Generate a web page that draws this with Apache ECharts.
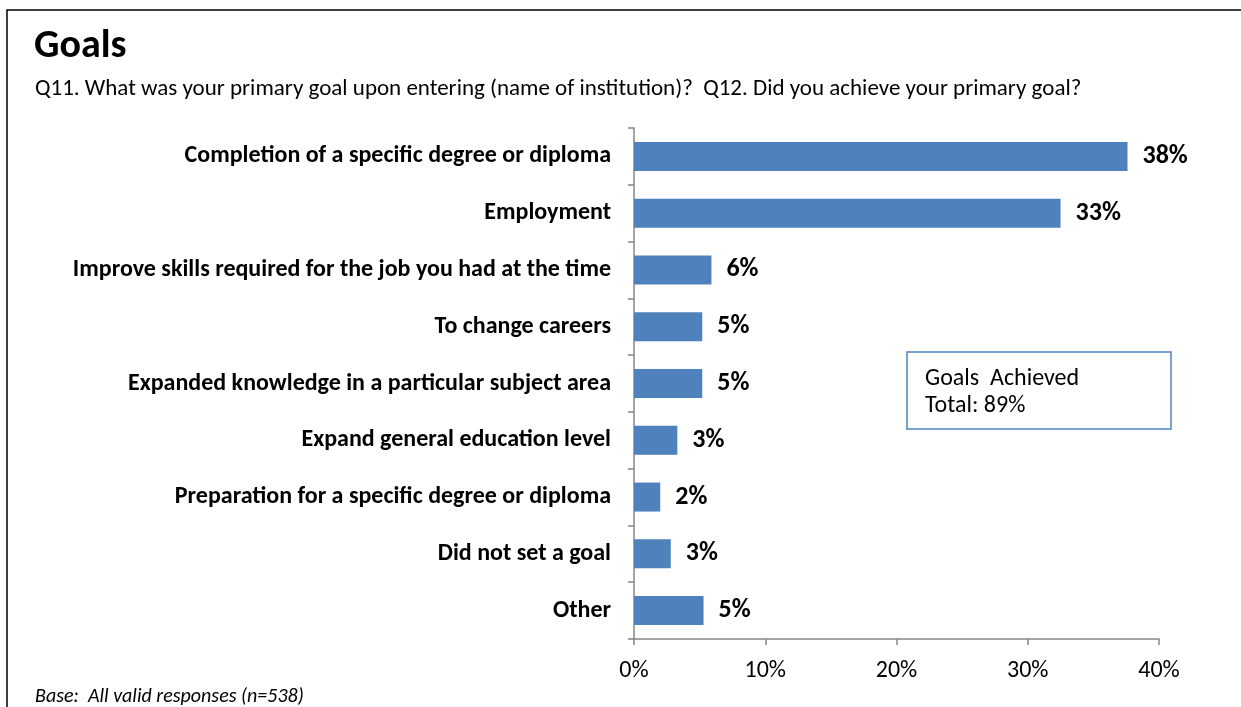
<!DOCTYPE html>
<html>
<head>
<meta charset="utf-8">
<script src="https://cdn.jsdelivr.net/npm/echarts@6/dist/echarts.min.js"></script>
<style>
    html, body {margin: 0; padding: 0; background: #fff;}
    #chart {width: 1241px; height: 707px;}
</style>
</head>
<body>
<div id="chart"></div>
<script>
var goalNames = [
    "Completion of a specific degree or diploma",
    "Employment",
    "Improve skills required for the job you had at the time",
    "To change careers",
    "Expanded knowledge in a particular subject area",
    "Expand general education level",
    "Preparation for a specific degree or diploma",
    "Did not set a goal",
    "Other"
];
var goalPct = [37.6, 32.5, 5.9, 5.2, 5.2, 3.3, 2.0, 2.8, 5.3];
var xTicks = [0, 10, 20, 30, 40];

var fontName = "Carlito, Lato, 'Noto Sans', sans-serif";

var myChart = echarts.init(document.getElementById("chart"));

var option = {
    backgroundColor: '#fff',
    animation: false,
    grid: {
        left: 634,
        right: 82,
        top: 128,
        bottom: 68,
        containLabel: false
    },
    xAxis: {
        type: 'value',
        min: xTicks[0],
        max: xTicks[xTicks.length - 1],
        interval: 10,
        axisLine: {show: true, lineStyle: {color: '#868686', width: 1.5}},
        axisTick: {show: true, length: 6, lineStyle: {color: '#868686', width: 1.5}},
        splitLine: {show: false},
        axisLabel: {
            margin: 20,
            fontFamily: fontName,
            fontSize: 24,
            color: '#000',
            formatter: '{value}%'
        }
    },
    yAxis: {
        type: 'category',
        inverse: true,
        data: goalNames,
        axisLine: {show: true, lineStyle: {color: '#868686', width: 1.5}},
        axisTick: {show: true, length: 6, lineStyle: {color: '#868686', width: 1.5}},
        axisLabel: {
            margin: 23,
            fontFamily: fontName,
            fontSize: 24,
            fontWeight: 'bold',
            color: '#000'
        }
    },
    series: [
        {
            type: 'bar',
            data: goalPct,
            barWidth: 29,
            itemStyle: {color: '#4f81bd'},
            label: {
                show: true,
                position: 'right',
                distance: 15,
                fontFamily: fontName,
                fontSize: 26,
                fontWeight: 'bold',
                color: '#000',
                formatter: function (p) {
                    return Math.round(p.value) + '%';
                }
            }
        }
    ],
    graphic: [
        {
            type: 'rect',
            shape: {x: 7, y: 10, width: 1240, height: 710},
            style: {fill: 'none', stroke: '#000', lineWidth: 1.5},
            silent: true
        },
        {
            type: 'text',
            style: {
                x: 34, y: 47, text: 'Goals', verticalAlign: 'middle',
                fontFamily: fontName, fontSize: 40, fontWeight: 'bold', fill: '#000'
            },
            silent: true
        },
        {
            type: 'text',
            style: {
                x: 35, y: 89, verticalAlign: 'middle',
                text: 'Q11. What was your primary goal upon entering (name of institution)?  Q12. Did you achieve your primary goal?',
                fontFamily: fontName, fontSize: 23, fill: '#000'
            },
            silent: true
        },
        {
            type: 'text',
            style: {
                x: 35, y: 697, verticalAlign: 'middle',
                text: 'Base:  All valid responses (n=538)',
                fontFamily: fontName, fontSize: 20, fontStyle: 'italic', fill: '#000'
            },
            silent: true
        },
        {
            type: 'rect',
            shape: {x: 907, y: 352, width: 264, height: 77},
            style: {fill: '#fff', stroke: '#4f81bd', lineWidth: 1.5},
            silent: true
        },
        {
            type: 'text',
            style: {
                x: 925, y: 379, verticalAlign: 'middle',
                text: 'Goals  Achieved',
                fontFamily: fontName, fontSize: 24, fill: '#000'
            },
            silent: true
        },
        {
            type: 'text',
            style: {
                x: 925, y: 406, verticalAlign: 'middle',
                text: 'Total: 89%',
                fontFamily: fontName, fontSize: 24, fill: '#000'
            },
            silent: true
        }
    ]
};

myChart.setOption(option);
</script>
</body>
</html>
